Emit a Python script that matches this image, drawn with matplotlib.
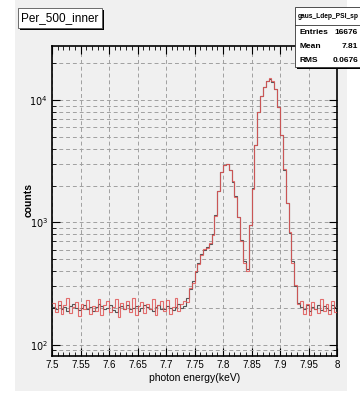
import matplotlib
matplotlib.use('Agg')
import matplotlib.pyplot as plt
import matplotlib.patches as mpatches
from matplotlib.ticker import FixedLocator, LogLocator, NullFormatter
import numpy as np

plt.rcParams['font.family'] = ['Liberation Sans Narrow', 'Liberation Sans', 'DejaVu Sans']
plt.rcParams['mathtext.fontset'] = 'custom'
plt.rcParams['mathtext.rm'] = 'Liberation Sans Narrow'

# ---- data (counts per 0.005 keV bin, 7.5 - 8.0 keV) ----
e_min, e_max, n_bins = 7.5, 8.0, 100

base_left_gray = [205, 198, 212, 196, 203, 190, 208, 214, 199, 193, 201, 210, 197, 205, 188,
                  202, 215, 207, 196, 200, 211, 194, 186, 203, 209, 198, 213, 195, 201, 206,
                  190, 199, 212, 204, 197, 188, 203, 210, 198, 195, 207, 201, 192, 205, 214,
                  199, 208]
base_left_red = [220, 185, 230, 178, 210, 240, 182, 205, 225, 172, 215, 196, 232, 180, 208,
                 190, 236, 175, 212, 228, 184, 203, 238, 170, 218, 195, 226, 186, 240, 176,
                 207, 222, 183, 214, 198, 235, 174, 210, 226, 188, 232, 179, 205, 242, 190,
                 216, 230]
peak_gray = [240, 285, 330, 390, 470, 550, 600, 630, 665, 800,
             1150, 1800, 2600, 2950, 2980, 2700, 2150, 1650, 1100, 720,
             480, 415, 950, 1900, 4300, 8000, 10900, 12800, 14400, 15000,
             14200, 12300, 8800, 5200, 2700, 1450, 820, 480, 300, 220]
peak_red = [225, 290, 320, 400, 455, 540, 610, 620, 680, 790,
            1130, 1820, 2580, 2960, 2990, 2690, 2170, 1630, 1110, 710,
            470, 400, 960, 1880, 4280, 8050, 10850, 12850, 14350, 15050,
            14250, 12250, 8850, 5150, 2720, 1430, 830, 470, 310, 215]
base_right_gray = [202, 196, 210, 189, 205, 198, 213, 194, 207, 200, 192, 211, 204]
base_right_red = [230, 180, 215, 176, 225, 195, 182, 236, 190, 214, 178, 228, 186]

counts_gray = base_left_gray + peak_gray + base_right_gray
counts_red = base_left_red + peak_red + base_right_red

x_ticks = [7.5, 7.55, 7.6, 7.65, 7.7, 7.75, 7.8, 7.85, 7.9, 7.95, 8.0]
x_tick_labels = ['7.5', '7.55', '7.6', '7.65', '7.7', '7.75', '7.8', '7.85', '7.9', '7.95', '8']
y_ticks = [100, 1000, 10000]
y_tick_labels = ['$10^{2}$', '$10^{3}$', '$10^{4}$']

stats_title = 'gaus_Ldep_PSI_sp'
stats_labels = ['Entries', 'Mean', 'RMS']
stats_values = ['16676', '7.81', '0.0676']

W, H = 360, 393
def fx(x): return x / W
def fy(y): return 1 - y / H

BG = '#f0f0f0'
fig = plt.figure(figsize=(W / 100, H / 100), dpi=100, facecolor='white')

# grey ROOT canvas
fig.patches.append(mpatches.Rectangle((fx(15), fy(391)), fx(347) - fx(15), fy(0) - fy(391),
                                      transform=fig.transFigure, fc=BG, ec='none', zorder=-5))

ax = fig.add_axes([fx(52), fy(356), fx(337) - fx(52), fy(46) - fy(356)])
ax.set_zorder(1)
ax.set_facecolor(BG)

edges = np.linspace(e_min, e_max, n_bins + 1)
ax.stairs(counts_gray, edges, baseline=None, color='#555555', lw=0.8, zorder=3)
ax.stairs(counts_red, edges, baseline=None, color='#e05555', lw=0.8, alpha=0.85, zorder=4)

ax.set_yscale('log')
ax.set_xlim(e_min, e_max)
ax.set_ylim(81, 27700)

ax.xaxis.set_major_locator(FixedLocator(x_ticks))
ax.set_xticklabels(x_tick_labels)
ax.xaxis.set_minor_locator(FixedLocator(np.arange(7.5, 8.0001, 0.01)))
ax.yaxis.set_major_locator(FixedLocator(y_ticks))
ax.set_yticklabels(y_tick_labels)
ax.yaxis.set_minor_locator(LogLocator(base=10, subs=np.arange(2, 10)))
ax.yaxis.set_minor_formatter(NullFormatter())

ax.grid(True, which='major', axis='x', color='#a0a0a0', ls=(0, (4, 3)), lw=0.7)
ax.grid(True, which='both', axis='y', color='#a0a0a0', ls=(0, (4, 3)), lw=0.7)
ax.set_axisbelow(True)

ax.tick_params(which='both', direction='in', top=True, right=True, labelsize=7, pad=3)
ax.tick_params(which='major', length=6, width=0.8)
ax.tick_params(which='minor', length=3, width=0.6)
for s in ax.spines.values():
    s.set_linewidth(1.2)

ax.set_xlabel('photon energy(keV)', fontsize=7.5, labelpad=2)
fig.text(fx(29), fy(200), 'counts', rotation=90, fontsize=7.5, fontweight='bold',
         ha='center', va='center')

# title box with shadow
fig.patches.append(mpatches.Rectangle((fx(20), fy(30)), fx(104) - fx(20), fy(10) - fy(30),
                                      transform=fig.transFigure, fc='black', ec='none', zorder=5))
fig.patches.append(mpatches.Rectangle((fx(18), fy(28)), fx(102) - fx(18), fy(8) - fy(28),
                                      transform=fig.transFigure, fc='white', ec='#555555',
                                      lw=0.6, zorder=6))
fig.text(fx(60), fy(18), 'Per_500_inner', fontsize=8.5, ha='center', va='center', zorder=7)

# stats box (runs off the right edge)
fig.patches.append(mpatches.Rectangle((fx(297), fy(69)), fx(370) - fx(297), fy(9) - fy(69),
                                      transform=fig.transFigure, fc='black', ec='none', zorder=5))
fig.patches.append(mpatches.Rectangle((fx(295), fy(67)), fx(370) - fx(295), fy(7) - fy(67),
                                      transform=fig.transFigure, fc='white', ec='#333333',
                                      lw=0.6, zorder=6))
fig.add_artist(plt.Line2D([fx(295), fx(360)], [fy(25), fy(25)], transform=fig.transFigure,
                          color='#333333', lw=0.6, zorder=7))
fig.text(fx(298), fy(16), stats_title, fontsize=4.8, fontweight='bold',
         ha='left', va='center', zorder=7)
for i, (lab, val) in enumerate(zip(stats_labels, stats_values)):
    yy = fy(33 + 14 * i)
    fig.text(fx(299), yy, lab, fontsize=6, fontweight='bold', ha='left', va='center', zorder=7)
    fig.text(fx(358), yy, val, fontsize=6, fontweight='bold', ha='right', va='center', zorder=7)

fig.savefig('out.png', dpi=100, facecolor='white')
